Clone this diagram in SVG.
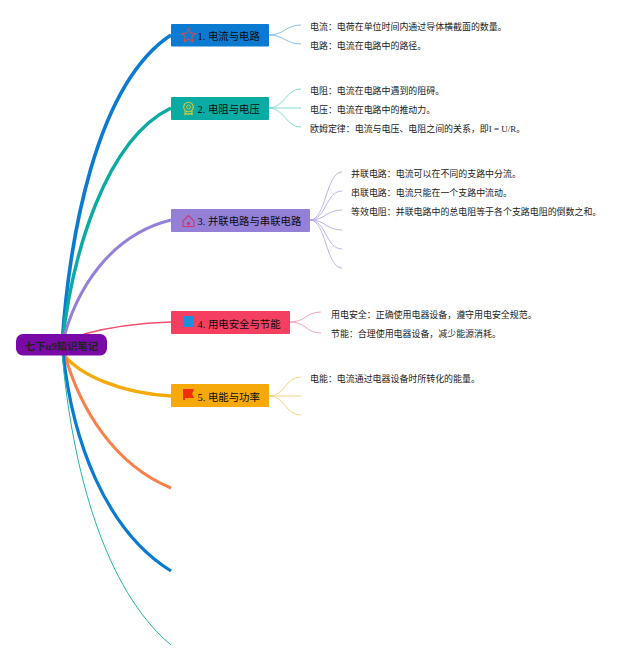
<svg xmlns="http://www.w3.org/2000/svg" width="640" height="661" viewBox="0 0 640 661">
<style>
text{font-family:"Liberation Serif","Noto Sans CJK SC",sans-serif;fill:#222}
.t{font-size:10.4px;fill:#0c0c0c}
.l{font-size:8.95px;fill:#222}
</style>
<rect width="640" height="661" fill="#fff"/>
<g id="connectors">
<path d="M62 345C69 240 95 85 171 35" stroke="#0a7bd0" stroke-width="3.600" fill="none"/>
<path d="M62 345C72 255 105 140 171 108" stroke="#0aaba3" stroke-width="3.400" fill="none"/>
<path d="M62 345C75 290 110 235 171 220" stroke="#9580d8" stroke-width="3" fill="none"/>
<path d="M84 334C110 327 140 323 171 322" stroke="#ee4f6f" stroke-width="1.300" fill="none"/>
<path d="M64 355C80 375 120 393 171 396" stroke="#f5a90a" stroke-width="3.400" fill="none"/>
<path d="M64 352C80 410 115 465 171 488" stroke="#f9804a" stroke-width="3" fill="none"/>
<path d="M63 352C72 440 105 530 171 571" stroke="#0a7bd0" stroke-width="3.200" fill="none"/>
<path d="M62 352C72 470 105 590 171 645" stroke="#21b5a8" stroke-width="1" fill="none"/>
<g stroke="#7fb9ea" stroke-width="0.900" fill="none">
<path d="M269 35C284 35 286 25 301 25"/><path d="M269 35C284 35 286 44 301 44"/>
</g>
<g stroke="#7ad6cd" stroke-width="0.900" fill="none">
<path d="M269 108C284 108 286 89 301 89"/><path d="M269 108H301"/><path d="M269 108C284 108 286 127 301 127"/>
</g>
<g stroke="#b9aae8" stroke-width="0.900" fill="none">
<path d="M310 220C326 220 326 172 342 172"/><path d="M310 220C326 220 326 191 342 191"/><path d="M310 220C326 220 326 210 342 210"/><path d="M310 220C326 220 326 230 342 230"/><path d="M310 220C326 220 326 249 342 249"/><path d="M310 220C326 220 326 268 342 268"/>
</g>
<g stroke="#f29ab0" stroke-width="0.900" fill="none">
<path d="M290 322C306 322 306 312 321 312"/><path d="M290 322C306 322 306 333 321 333"/>
</g>
<g stroke="#f6cf7e" stroke-width="0.900" fill="none">
<path d="M269 396C285 396 285 377 301 377"/><path d="M269 396H301"/><path d="M269 396C285 396 285 415 301 415"/>
</g>
</g>
<g id="root"><rect x="16" y="334" width="91" height="21.500" rx="7" fill="#7a0aa8"/><text x="61.500" y="349.500" text-anchor="middle" font-size="10.400" font-weight="700" fill="#0c0c0c">七下u9知识笔记</text></g>
<g id="n1"><rect x="171" y="24" width="98" height="22.500" rx="1" fill="#0a7bd0"/><path d="M188.500 28.500l2 4.500 5 .5-3.700 3.300 1 4.900-4.300-2.500-4.300 2.500 1-4.900-3.700-3.300 5-.5z" fill="none" stroke="#c8505a" stroke-width="1.100"/><text class="t" x="197.500" y="39.500">1. 电流与电路</text></g>
<g id="n2"><rect x="171" y="97" width="98" height="23" rx="1" fill="#0aaba3"/><circle cx="188.500" cy="107" r="4.800" fill="none" stroke="#d9c83a" stroke-width="1.100"/><circle cx="188.500" cy="107" r="2" fill="none" stroke="#d9c83a" stroke-width="0.900"/><path d="M185 111v3.500l2-1 1.500 1 1.500-1 2 1V111" fill="none" stroke="#d9c83a" stroke-width="1.100"/><text class="t" x="197.500" y="113">2. 电阻与电压</text></g>
<g id="n3"><rect x="171" y="209" width="139" height="23" rx="1" fill="#9580d8"/><path d="M183 221l5.500-5.500 5.500 5.500v5.500h-11z" fill="none" stroke="#d6336c" stroke-width="1.100"/><circle cx="188.500" cy="223.500" r="1.700" fill="#d6336c"/><text class="t" x="197.500" y="225">3. 并联电路与串联电路</text></g>
<g id="n4"><rect x="171" y="311" width="119" height="23" rx="1" fill="#f53f60"/><rect x="183" y="316" width="11" height="11" fill="#1f8fdc"/><text class="t" x="197.500" y="327.500">4. 用电安全与节能</text></g>
<g id="n5"><rect x="171" y="384" width="98" height="23" rx="1" fill="#f5a90a"/><path d="M183 389h11l-2 5 2 4h-9v2h-2z" fill="#f0300a"/><text class="t" x="197.500" y="400.500">5. 电能与功率</text></g>
<g id="l1"><text class="l" x="310" y="30">电流：电荷在单位时间内通过导体横截面的数量。</text></g>
<g id="l2"><text class="l" x="310" y="49">电路：电流在电路中的路径。</text></g>
<g id="l3"><text class="l" x="310" y="93.500">电阻：电流在电路中遇到的阻碍。</text></g>
<g id="l4"><text class="l" x="310" y="113">电压：电流在电路中的推动力。</text></g>
<g id="l5"><text class="l" x="310" y="132">欧姆定律：电流与电压、电阻之间的关系，即I = U/R。</text></g>
<g id="l6"><text class="l" x="351" y="177">并联电路：电流可以在不同的支路中分流。</text></g>
<g id="l7"><text class="l" x="351" y="196">串联电路：电流只能在一个支路中流动。</text></g>
<g id="l8"><text class="l" x="351" y="215">等效电阻：并联电路中的总电阻等于各个支路电阻的倒数之和。</text></g>
<g id="l9"><text class="l" x="331" y="317.500">用电安全：正确使用电器设备，遵守用电安全规范。</text></g>
<g id="l10"><text class="l" x="331" y="336.500">节能：合理使用电器设备，减少能源消耗。</text></g>
<g id="l11"><text class="l" x="310" y="381.500">电能：电流通过电器设备时所转化的能量。</text></g>
</svg>
